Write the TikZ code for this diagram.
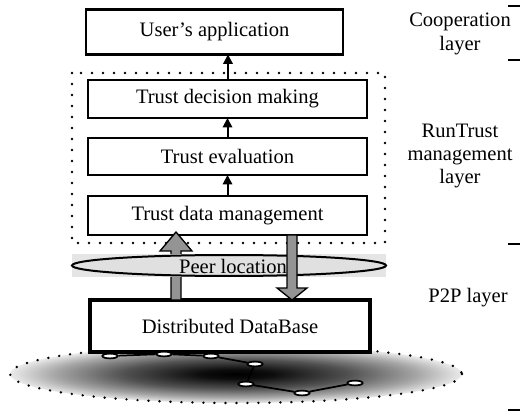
\documentclass[tikz,border=0pt]{standalone}
\usepackage{fontspec}
\setmainfont{Liberation Serif}
\usetikzlibrary{arrows.meta,shapes.geometric}
\pgfdeclareradialshading{cloudshade}{\pgfpoint{0bp}{0bp}}{color(0bp)=(black); color(4bp)=(black!95); color(12.5bp)=(black!68); color(20bp)=(black!35); color(25bp)=(black!8); color(50bp)=(white)}
\begin{document}
\begin{tikzpicture}[x=0.75pt,y=-0.75pt,
  font=\fontsize{15.4}{17.5}\selectfont,
  box/.style={draw,line width=2pt,fill=white,inner sep=0pt,outer sep=0pt,align=center},
  dots/.style={line width=2pt,dash pattern=on 0pt off 8.25pt,line cap=round},
  uparrow/.style={-{Triangle[length=7pt,width=7pt]},line width=1.5pt},
  block/.style={draw,line width=1pt,fill=black!42},
  peer/.style={ellipse,draw,fill=white,line width=1.3pt,minimum width=11.5pt,minimum height=3.6pt,inner sep=0pt},
  link/.style={line width=1.3pt},
  tick/.style={line width=1.6pt},
  lbl/.style={align=center,inner sep=0pt}]
\useasboundingbox (0,0) rectangle (520,416);

% bottom shaded cloud
\shade[shading=cloudshade] (236,374) ellipse [x radius=226,y radius=29];
\draw[dots] (236,374) ellipse [x radius=226,y radius=29];

% dotted management frame
\draw[dots] (72,73) rectangle (385,243);

% boxes
\node[box,minimum width=192.75pt,minimum height=33.75pt] (ua) at (214.5,32) {User's application};
\node[box,minimum width=209.25pt,minimum height=28.5pt] (tdm) at (227.5,99) {Trust decision making};
\node[box,minimum width=209.25pt,minimum height=27.75pt] (te) at (227.5,156.5) {Trust evaluation};
\node[box,minimum width=209.25pt,minimum height=29.25pt] (tdat) at (227.5,215.5) {Trust data management};
\node[box,line width=3pt,minimum width=210pt,minimum height=39pt] (db) at (230,326) {Distributed DataBase};

% thin arrows
\draw[uparrow] (tdm.north -| 228,0) -- (ua.south -| 228,0);
\draw[uparrow] (te.north) -- (tdm.south);
\draw[uparrow] (tdat.north) -- (te.south);

% up block arrow (behind peer location)
\draw[block] (176,232) -- (192,251) -- (181,251) -- (181,300) -- (171,300) -- (171,251) -- (160,251) -- cycle;

% peer location
\fill[black!10] (72,254) rectangle (386,277);
\draw[line width=1.5pt,fill=black!12] (229,265.5) ellipse [x radius=157,y radius=10.5];

% down block arrow
\draw[block] (287,235) -- (297,235) -- (297,288) -- (307,288) -- (292,300) -- (277,288) -- (287,288) -- cycle;

\node[lbl] (pl) at (233,266) {Peer location};

% peers
\node[peer] (p1) at (110,356) {};
\node[peer] (p2) at (164,354) {};
\node[peer] (p3) at (211,356) {};
\node[peer] (p4) at (255,364) {};
\node[peer] (p5) at (246,384) {};
\node[peer] (p6) at (302,393) {};
\node[peer] (p7) at (355,383) {};
\draw[link] (p1) -- (p2) -- (p3) -- (p4) -- (p5) -- (p6) -- (p7);

% right labels
\node[lbl] (coop) at (460,34) {Cooperation\\layer};
\node[lbl] (rt) at (460,156) {RunTrust\\management\\layer};
\node[lbl] (p2p) at (468,298) {P2P layer};

% ticks
\draw[tick] (508,6) -- (520,6);
\draw[tick] (508,60) -- (520,60);
\draw[tick] (508,244) -- (520,244);
\draw[tick] (508,410) -- (520,410);
\end{tikzpicture}
\end{document}
